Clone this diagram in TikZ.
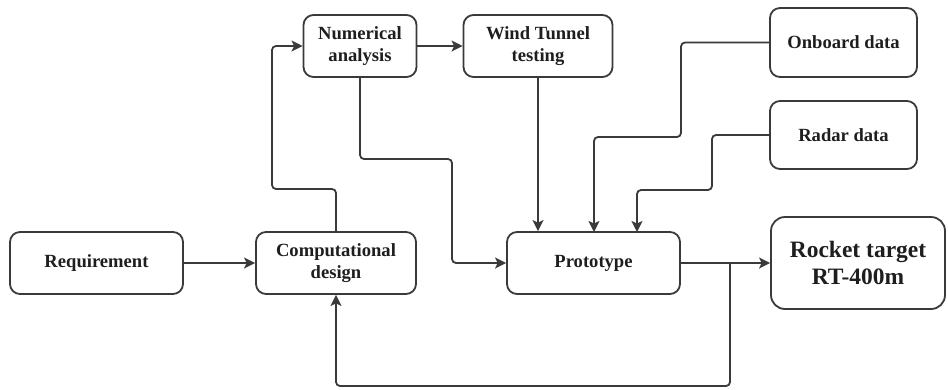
\documentclass[tikz,border=0pt]{standalone}
\usepackage{fontspec}
\setmainfont{Liberation Serif}
\usetikzlibrary{arrows.meta,calc}
\definecolor{ln}{HTML}{3A3A3A}
\definecolor{tx}{HTML}{1E1E1E}
\tikzset{
  box/.style={draw=ln, line width=1.8pt, rounded corners=10pt, align=center,
    text=tx, font=\bfseries\fontsize{18.6}{21.5}\selectfont, inner sep=0pt},
  bigbox/.style={box, rounded corners=14pt, font=\bfseries\fontsize{23.5}{27}\selectfont},
  conn/.style={draw=ln, line width=1.8pt, rounded corners=4pt},
  arr/.style={conn, -{Stealth[length=11pt,width=11pt,inset=2.5pt]}}
}
\begin{document}
\begin{tikzpicture}[x=1pt,y=-1pt]
\useasboundingbox (0,0) rectangle (948,389);
\node[box, minimum width=173pt, minimum height=62pt] (req) at (96.5,263) {Requirement};
\node[box, minimum width=160pt, minimum height=62pt] (comp) at (336,263) {Computational\\design};
\node[box, minimum width=113pt, minimum height=62pt] (num) at (360,46) {Numerical\\analysis};
\node[box, minimum width=149pt, minimum height=62pt] (wind) at (538,46) {Wind Tunnel\\testing};
\node[box, minimum width=147pt, minimum height=69pt] (onb) at (843.5,42.5) {Onboard data};
\node[box, minimum width=147pt, minimum height=68pt] (rad) at (843.5,135) {Radar data};
\node[box, minimum width=173pt, minimum height=62pt] (proto) at (593.5,263) {Prototype};
\node[bigbox, minimum width=174pt, minimum height=92pt] (rock) at (858,263) {Rocket target\\RT-400m};

\coordinate (c1) at (272,189);
\coordinate (c2) at (452,159);
\coordinate (c3) at (681,137);
\coordinate (p1) at (594,232);
\coordinate (c4) at (712,190);
\coordinate (p2) at (637,232);
\coordinate (b) at (730,263);
\coordinate (c5) at (336,386);

\draw[arr] (req) -- (comp);
\draw[arr] (comp.north) |- (c1) |- (num.west);
\draw[arr] (num) -- (wind);
\draw[arr] (num.south) |- (c2) |- (proto.west);
\draw[arr] (wind.south) -- (wind.south |- proto.north);
\draw[arr] (onb.west) -| (c3) -| (p1);
\draw[arr] (rad.west) -| (c4) -| (p2);
\draw[arr] (proto.east) -- (rock.west);
\draw[arr] (b) |- (c5) -- (comp.south);
\end{tikzpicture}
\end{document}
